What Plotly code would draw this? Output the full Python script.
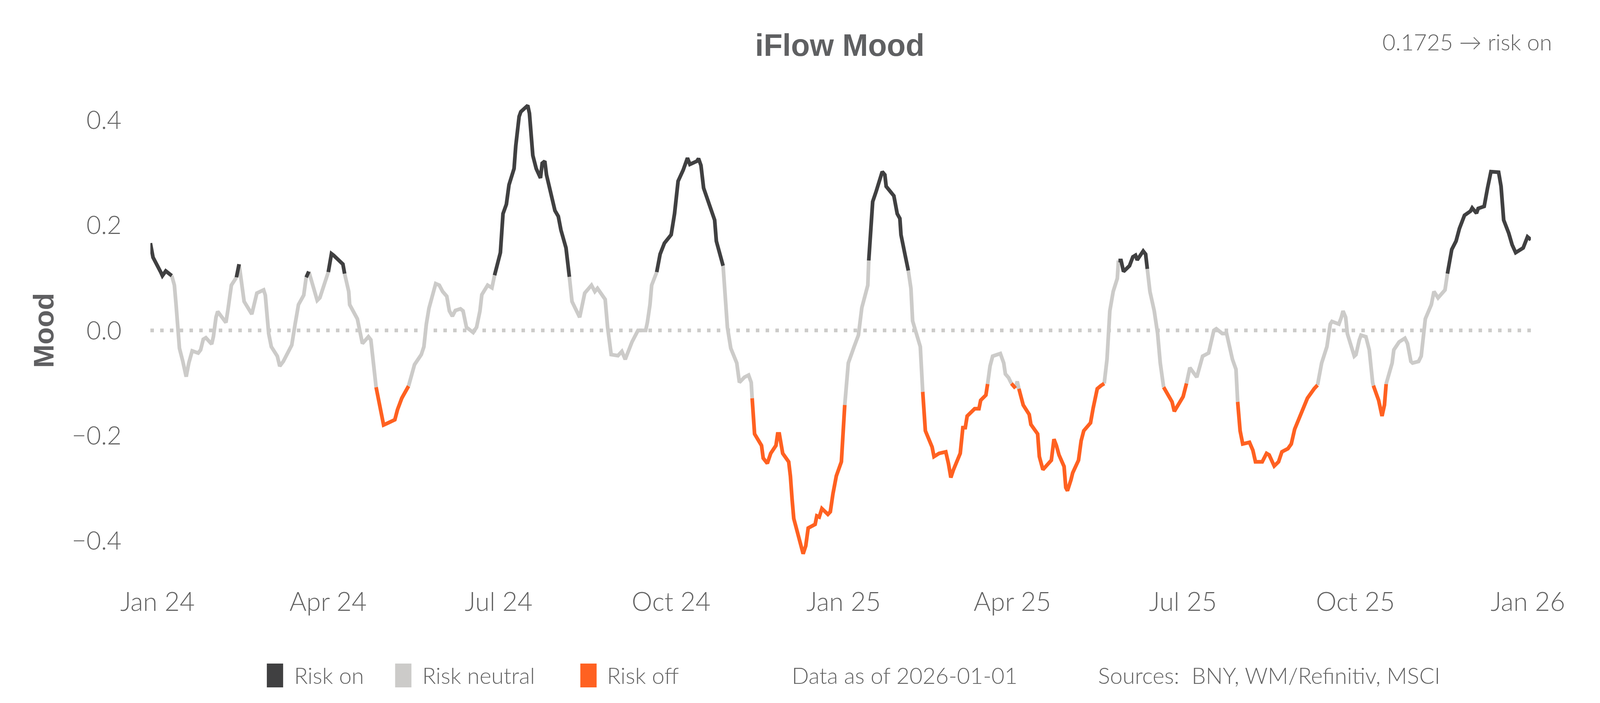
import pandas as pd
import plotly.graph_objects as go

# ---------------- data ----------------
base_date = "2024-01-01"
day_offsets = [
    -3.8, -2.4, 1.7, 2.6, 4.4, 7.6, 9.0, 9.9, 10.8, 11.7, 13.5, 15.3, 16.7, 18.5, 21.7, 23.0,
    24.4, 25.8, 28.9, 29.8, 31.2, 32.1, 34.4, 36.5, 37.6, 39.4, 42.1, 43.5, 46.2, 50.3, 53.0,
    56.6, 57.5, 59.3, 60.7, 63.9, 65.2, 67.1, 71.6, 73.4, 75.2, 78.0, 79.3, 80.7, 85.2, 86.6,
    91.1, 92.8, 93.9, 98.9, 99.8, 102.0, 102.5, 106.6, 109.3, 112.5, 113.8, 115.2, 116.6,
    119.7, 120.6,
    123.0, 126.6, 128.0, 130.3, 133.9, 137.1, 140.7, 142.1, 143.4, 144.8, 148.4, 150.3, 152.1,
    154.3, 155.7, 157.3, 158.9, 161.6, 163.0, 164.8, 168.4, 170.2, 172.0, 173.0, 176.1, 178.4,
    179.8, 182.9, 184.3, 186.1, 187.5, 190.2, 191.1, 192.9, 193.8, 197.5, 198.4, 199.7, 200.2,
    202.0, 204.3, 205.2, 206.6, 207.5, 209.3, 211.1, 212.0, 213.8, 215.2, 217.9, 218.4, 219.7,
    221.1, 225.2, 227.9, 231.5, 233.3, 234.7, 238.8, 240.1, 242.0, 245.6,
    247.7, 249.5, 253.1, 256.3, 260.4, 261.3, 262.7, 263.6, 266.3, 268.1, 270.4, 274.0, 275.8,
    277.7, 280.4, 282.7, 284.0, 287.7, 288.6, 289.9, 291.3, 294.9, 297.2, 298.1, 301.7, 303.1,
    304.0, 305.8, 309.0, 310.4, 313.1, 315.3, 316.7, 317.2, 318.5, 322.2, 323.1, 325.3, 327.1,
    329.9, 330.8, 331.7, 333.5, 336.7, 337.6, 338.5, 339.4, 341.2, 344.4, 345.8, 347.1, 350.8,
    351.7, 353.0, 354.4, 357.6, 358.9, 360.3, 362.1, 364.8, 365.7, 366.6, 368.5, 371.6, 373.9,
    375.7, 378.9, 379.4, 381.5, 383.4, 386.6, 388.0,
    388.7, 392.8, 394.6, 396.0, 396.6, 398.7, 400.5, 401.9, 402.8, 405.5, 406.9, 408.2, 409.6,
    413.2, 414.2, 416.9, 420.5, 421.9, 423.2, 424.6, 428.2, 429.6, 430.9, 431.9, 435.9, 438.2,
    439.1, 441.9, 442.8, 444.1, 445.5, 449.6, 451.4, 452.3, 454.0, 455.5, 457.7, 458.6, 459.5,
    461.8, 465.0, 465.9, 469.5, 470.4, 472.3, 476.8, 478.2, 479.5, 480.9, 483.6, 484.5, 485.4,
    487.3, 488.2, 491.3, 492.7, 494.1, 497.7, 499.1, 501.3, 503.3, 505.0, 506.5, 508.0, 509.8,
    512.0, 512.6, 514.0, 515.3, 518.5, 520.3, 521.7, 522.6, 525.8, 527.1, 528.0, 529.4, 531.7,
    533.5, 534.9, 536.7, 539.8, 541.2, 542.4, 544.4, 547.1, 548.9, 550.7, 554.4, 557.5, 560.7,
    563.5, 564.8, 568.0, 570.3, 573.4, 575.3, 576.2, 577.5, 578.9, 582.5, 584.3, 585.7, 589.3,
    591.6, 593.0, 595.7, 598.0, 599.8, 603.0, 604.8, 606.6, 610.2, 613.4, 617.0, 618.8, 620.2,
    621.0, 623.8, 625.6, 626.5, 630.2, 631.5, 632.4, 633.8, 634.7, 638.4, 639.3, 641.1, 642.0,
    644.6, 646.4, 648.2, 648.6, 651.4, 653.2, 654.5, 655.4, 658.6, 659.5, 662.3, 665.4, 666.8,
    668.6, 669.5, 672.7, 674.1, 676.3, 679.5, 680.9, 683.1, 686.8, 688.1, 690.4, 692.7, 694.5,
    697.2, 700.4, 701.3, 703.6, 704.5, 707.7, 709.5, 711.3, 715.4, 716.7, 718.1, 720.8, 722.6,
    724.5, 728.5, 729.9, 730.8, 732.6,
]
mood = [
    0.166, 0.139, 0.111, 0.104, 0.113, 0.104, 0.086, 0.049, 0.0, -0.034, -0.059, -0.088, -0.062,
    -0.039, -0.043, -0.037, -0.017, -0.014, -0.026, -0.012, 0.025, 0.036, 0.025, 0.015, 0.040,
    0.086, 0.101, 0.126, 0.055, 0.031, 0.071, 0.077, 0.067, -0.006, -0.031, -0.049, -0.068,
    -0.059, -0.028, 0.012, 0.049, 0.067, 0.101, 0.112, 0.057, 0.062, 0.111, 0.146, 0.143, 0.126,
    0.108, 0.074, 0.049, 0.022, -0.025, -0.012, -0.018, -0.062, -0.108, -0.160, -0.180,
    -0.176, -0.170, -0.151, -0.129, -0.106, -0.065, -0.046, -0.031, 0.012, 0.042, 0.089, 0.086,
    0.074, 0.065, 0.037, 0.027, 0.038, 0.041, 0.037, 0.006, -0.004, 0.006, 0.037, 0.068, 0.086,
    0.081, 0.105, 0.148, 0.222, 0.240, 0.277, 0.308, 0.351, 0.407, 0.416, 0.428, 0.413, 0.364,
    0.333, 0.308, 0.290, 0.318, 0.322, 0.296, 0.268, 0.247, 0.228, 0.217, 0.191, 0.157, 0.136,
    0.102, 0.055, 0.025, 0.071, 0.086, 0.074, 0.080, 0.059, 0.006, -0.046, -0.048,
    -0.040, -0.055, -0.022, 0.0, 0.0, 0.015, 0.049, 0.086, 0.111, 0.145, 0.166, 0.182, 0.222,
    0.284, 0.305, 0.328, 0.316, 0.322, 0.327, 0.314, 0.271, 0.234, 0.210, 0.170, 0.123, 0.062,
    0.006, -0.034, -0.062, -0.099, -0.089, -0.085, -0.099, -0.129, -0.197, -0.219, -0.243,
    -0.253, -0.234, -0.219, -0.197, -0.197, -0.234, -0.250, -0.277, -0.321, -0.358, -0.382,
    -0.425, -0.410, -0.376, -0.369, -0.353, -0.355, -0.339, -0.350, -0.345, -0.311, -0.277,
    -0.250, -0.197, -0.142, -0.062, -0.031, -0.009, 0.043, 0.086, 0.133, 0.245, 0.265, 0.302,
    0.296,
    0.274, 0.256, 0.222, 0.213, 0.182, 0.145, 0.114, 0.080, 0.018, -0.012, -0.031, -0.117,
    -0.191, -0.222, -0.240, -0.234, -0.231, -0.253, -0.280, -0.265, -0.234, -0.185, -0.185,
    -0.163, -0.149, -0.149, -0.133, -0.123, -0.102, -0.068, -0.049, -0.044, -0.062, -0.083,
    -0.090, -0.101, -0.110, -0.097, -0.111, -0.142, -0.160, -0.179, -0.197, -0.240, -0.265,
    -0.247, -0.207, -0.219, -0.237, -0.259, -0.299, -0.305, -0.284, -0.271, -0.247, -0.210,
    -0.191, -0.176, -0.148, -0.111, -0.105, -0.101, -0.055, 0.037, 0.074, 0.099, 0.133, 0.133,
    0.112, 0.123, 0.140, 0.143, 0.134, 0.151, 0.145, 0.117, 0.074, 0.037, -0.006, -0.062,
    -0.108, -0.129, -0.136, -0.154, -0.142, -0.126, -0.101, -0.071, -0.089, -0.049, -0.043,
    0.0, 0.003, -0.006, -0.006, -0.055, -0.074, -0.136, -0.191, -0.216, -0.213, -0.228, -0.250,
    -0.250, -0.234, -0.237, -0.258, -0.250, -0.231, -0.225, -0.216, -0.188, -0.157, -0.129,
    -0.111, -0.104, -0.080, -0.062, -0.031, 0.012, 0.017, 0.012, 0.025, 0.037, 0.025, -0.006,
    -0.049, -0.046, -0.018, -0.009, -0.012, -0.037, -0.099, -0.105, -0.133, -0.163, -0.142,
    -0.102, -0.062, -0.037, -0.022, -0.015, -0.025, -0.059, -0.062, -0.059, -0.049, 0.022,
    0.049, 0.074, 0.062, 0.077, 0.108, 0.154, 0.170, 0.194, 0.219, 0.227, 0.233, 0.223, 0.232,
    0.236, 0.271, 0.302, 0.301, 0.274, 0.210, 0.185, 0.163, 0.148, 0.157, 0.173, 0.178, 0.1725,
]

categories = ["Risk on", "Risk neutral", "Risk off"]
threshold_on = 0.1
threshold_off = -0.1
y_tick_values = [-0.4, -0.2, 0.0, 0.2, 0.4]
title_text = "iFlow Mood"
data_as_of = "2026-01-01"
sources_text = "Sources:\u00a0\u00a0BNY, WM/Refinitiv, MSCI"

# ---------------- styling ----------------
colors = {"Risk on": "#404041", "Risk neutral": "#cccbc9", "Risk off": "#ff6121"}
text_color = "#636363"
# Layout is designed in reference pixels (5400 x 1800). The figure fills the browser
# viewport (about 4096 x 1800 CSS px), so horizontal sizes are scaled by SX.
W, H = 5400, 1800
SX = 4096 / 5400
F = SX  # font scale
ML, MR, MT, MB = 507, 234, 227, 335
PW, PH = W - ML - MR, H - MT - MB


def px_x(X):
    return (X - ML) / PW


def px_y(Y):
    return (H - MB - Y) / PH


dates = pd.to_datetime(base_date) + pd.to_timedelta(day_offsets, unit="D")
x_str = [d.strftime("%Y-%m-%d %H:%M:%S") for d in dates]


def point_cat(v):
    if v > threshold_on:
        return "Risk on"
    if v < threshold_off:
        return "Risk off"
    return "Risk neutral"


def seg_cat(i):
    a, b = point_cat(mood[i]), point_cat(mood[i + 1])
    return a if a == b else "Risk neutral"


series = {c: ([], []) for c in categories}
prev = None
for i in range(len(mood) - 1):
    c = seg_cat(i)
    xs, ys = series[c]
    if c != prev:
        if xs:
            xs.append(None)
            ys.append(None)
        xs.append(x_str[i])
        ys.append(mood[i])
    xs.append(x_str[i + 1])
    ys.append(mood[i + 1])
    prev = c

fig = go.Figure()
for c in ["Risk neutral", "Risk on", "Risk off"]:
    xs, ys = series[c]
    fig.add_trace(go.Scatter(
        x=xs, y=ys, mode="lines", name=c, connectgaps=False,
        line=dict(color=colors[c], width=9.5),
        showlegend=False, hoverinfo="skip",
    ))

# dotted zero line
fig.add_shape(type="line", xref="paper", yref="y", x0=0, x1=1, y0=0, y1=0,
              line=dict(color="#cccbc9", width=9.5, dash="9px,16px"), layer="below")

xtick_font = dict(family="Lato", size=88 * F, color=text_color, weight=300)
ytick_font = dict(family="Lato", size=85 * F, color=text_color, weight=300)
small_font = dict(family="Lato", size=76 * F, color=text_color, weight=300)

fig.update_layout(
    autosize=True,
    margin=dict(l=ML * SX, r=MR * SX, t=MT, b=MB, pad=0),
    paper_bgcolor="white", plot_bgcolor="white",
    showlegend=False,
    xaxis=dict(
        type="date", range=[x_str[0], x_str[-1]],
        tick0="2024-01-01", dtick="M3", tickformat="%b %y",
        showgrid=False, zeroline=False, showline=False,
        ticks="outside", ticklen=18, tickcolor="rgba(0,0,0,0)",
        tickfont=xtick_font,
    ),
    yaxis=dict(
        range=[-0.46, 0.46], tickvals=y_tick_values, tickformat=".1f",
        showgrid=False, zeroline=False, showline=False,
        ticks="outside", ticklen=60, tickcolor="rgba(0,0,0,0)",
        tickfont=ytick_font,
        title=dict(text="Mood", standoff=22,
                   font=dict(family="Liberation Sans", size=72, color="#5f5f61", weight="bold")),
    ),
)

annotations = [
    dict(text=f"<b>{title_text}</b>", x=px_x(2834), y=px_y(116), xanchor="center", yanchor="middle",
         font=dict(family="Liberation Sans", size=104 * F, color="#5f6062")),
    dict(text=f"{mood[-1]:.4f} \u2192 risk on", x=px_x(5240), y=px_y(107), xanchor="right",
         yanchor="middle", font=small_font),
    dict(text=f"Data as of {data_as_of}", x=px_x(2669), y=px_y(1728), xanchor="left", yanchor="middle",
         font=small_font),
    dict(text=sources_text, x=px_x(3702), y=px_y(1728), xanchor="left", yanchor="middle",
         font=small_font),
]

legend_items = [("Risk on", 900, 989), ("Risk neutral", 1333, 1422), ("Risk off", 1958, 2046)]
for name, sx, tx in legend_items:
    fig.add_shape(type="rect", xref="paper", yref="paper",
                  x0=px_x(sx), x1=px_x(sx + 55), y0=px_y(1760), y1=px_y(1699),
                  fillcolor=colors[name], line=dict(width=0))
    annotations.append(dict(text=name, x=px_x(tx), y=px_y(1728), xanchor="left", yanchor="middle",
                            font=small_font))

for a in annotations:
    a.update(xref="paper", yref="paper", showarrow=False)
fig.update_layout(annotations=annotations)

fig.write_html(
    "out.html",
    config={"responsive": True, "displayModeBar": False},
    default_width="100vw",
    default_height="100vh",
    post_script=("document.body.style.margin='0';document.body.style.overflow='hidden';"
                 "window.dispatchEvent(new Event('resize'));"),
)
